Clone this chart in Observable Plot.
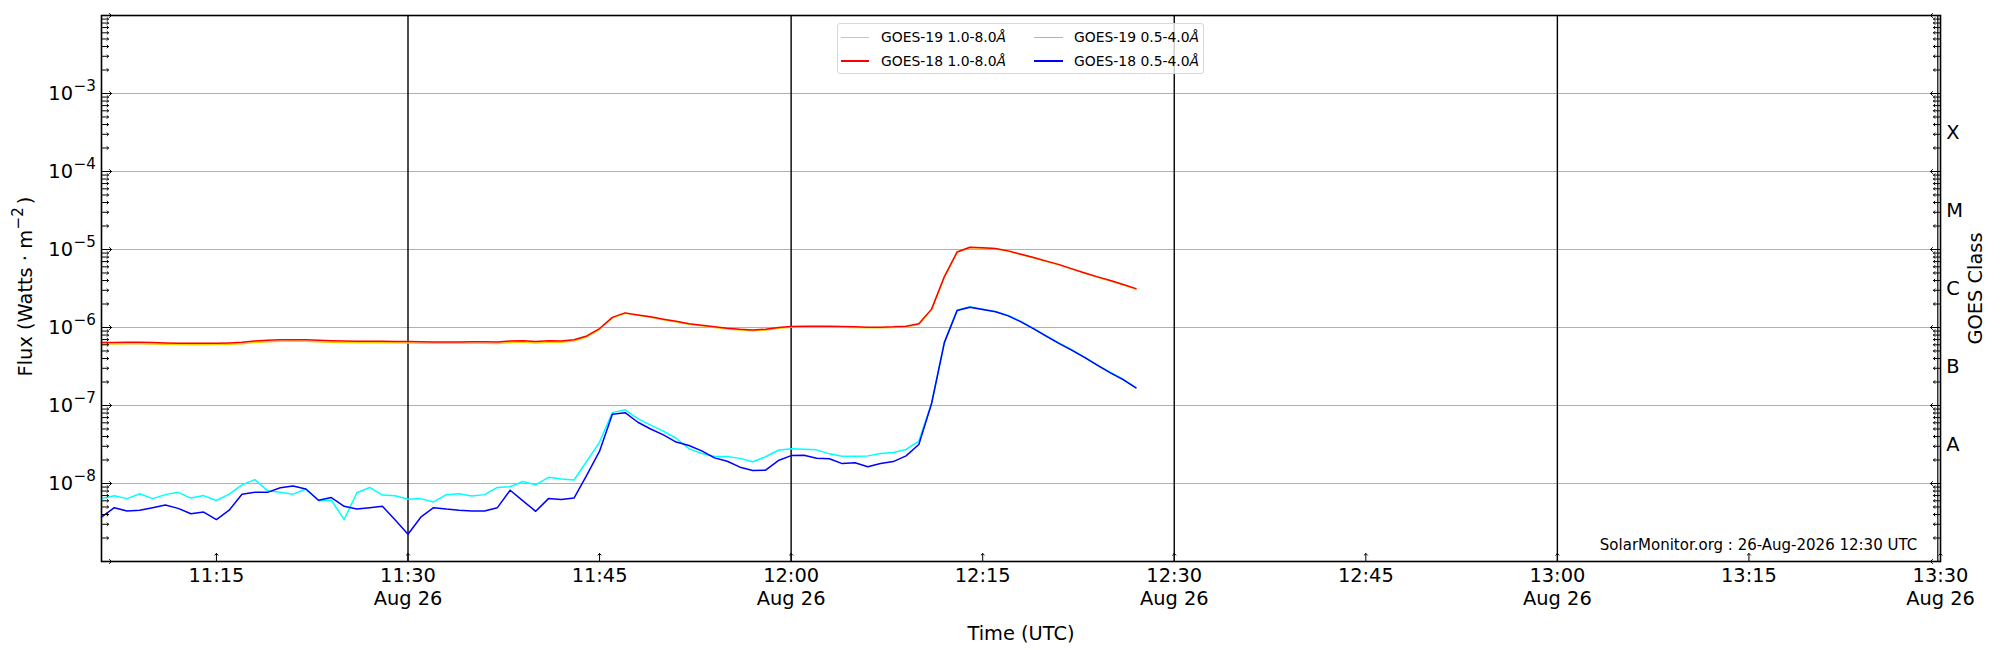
<!DOCTYPE html>
<html><head><meta charset="utf-8">
<script src="https://cdn.jsdelivr.net/npm/d3@7"></script>
<script src="https://cdn.jsdelivr.net/npm/@observablehq/plot@0.6"></script>
<style>
html,body{margin:0;padding:0;background:#fff;}
#wrap{position:relative;width:2000px;height:650px;font-family:"DejaVu Sans";}
#wrap svg{display:block;}
.legend-box{position:absolute;box-sizing:border-box;left:837px;top:22.7px;width:367px;height:51.3px;border:1px solid #d8d8d8;border-radius:3px;background:rgba(255,255,255,0.8);}
.lg-line{position:absolute;height:1.4px;}
.lg-text{position:absolute;font-size:13.9px;line-height:20px;height:20px;white-space:nowrap;color:#000;font-family:"DejaVu Sans";}
</style></head><body><div id="wrap"></div><script>
// ---- data (1-minute cadence starting 2026-08-26 11:06 UTC) ----
const startUTC = Date.UTC(2026, 7, 26, 11, 6);
const times = d3.range(82).map(i => new Date(startUTC + i * 60000));

const g19Long = [6.16e-7,6.16e-7,6.19e-7,6.19e-7,6.16e-7,6.1e-7,6.05e-7,6.03e-7,6.03e-7,6.05e-7,
  6.1e-7,6.19e-7,6.43e-7,6.58e-7,6.67e-7,6.7e-7,6.67e-7,6.58e-7,6.48e-7,6.43e-7,
  6.38e-7,6.38e-7,6.38e-7,6.36e-7,6.34e-7,6.29e-7,6.26e-7,6.26e-7,6.26e-7,6.29e-7,
  6.29e-7,6.24e-7,6.43e-7,6.51e-7,6.34e-7,6.48e-7,6.45e-7,6.7e-7,7.6e-7,9.5e-7,
  1.33e-6,1.52e-6,1.43e-6,1.35e-6,1.26e-6,1.18e-6,1.1e-6,1.05e-6,1.0e-6,0.96e-6,
  0.93e-6,0.91e-6,0.93e-6,0.98e-6,1.01e-6,1.02e-6,1.02e-6,1.02e-6,1.01e-6,1.0e-6,
  0.99e-6,0.99e-6,1.0e-6,1.02e-6,1.1e-6,1.7e-6,4.45e-6,9.2e-6,1.06e-5,1.04e-5,
  1.02e-5,9.5e-6,8.6e-6,7.8e-6,7.0e-6,6.3e-6,5.6e-6,4.95e-6,4.42e-6,3.96e-6,
  3.53e-6,3.12e-6];

const g18Long = [6.42e-7,6.42e-7,6.45e-7,6.45e-7,6.42e-7,6.35e-7,6.3e-7,6.28e-7,6.28e-7,6.3e-7,
  6.35e-7,6.45e-7,6.7e-7,6.85e-7,6.95e-7,6.98e-7,6.95e-7,6.85e-7,6.75e-7,6.7e-7,
  6.65e-7,6.65e-7,6.65e-7,6.62e-7,6.6e-7,6.55e-7,6.52e-7,6.52e-7,6.52e-7,6.55e-7,
  6.55e-7,6.5e-7,6.7e-7,6.78e-7,6.6e-7,6.75e-7,6.72e-7,6.95e-7,7.8e-7,9.7e-7,
  1.35e-6,1.54e-6,1.45e-6,1.37e-6,1.28e-6,1.2e-6,1.12e-6,1.07e-6,1.02e-6,0.98e-6,
  0.95e-6,0.93e-6,0.95e-6,1.0e-6,1.03e-6,1.04e-6,1.04e-6,1.04e-6,1.03e-6,1.02e-6,
  1.01e-6,1.01e-6,1.02e-6,1.04e-6,1.12e-6,1.72e-6,4.5e-6,9.3e-6,1.07e-5,1.05e-5,
  1.03e-5,9.6e-6,8.7e-6,7.9e-6,7.1e-6,6.4e-6,5.65e-6,5.0e-6,4.46e-6,4.0e-6,
  3.56e-6,3.15e-6];

const g19Short = [6.4e-9,6.95e-9,6.4e-9,7.4e-9,6.4e-9,7.2e-9,7.7e-9,6.5e-9,7.0e-9,6.05e-9,
  7.3e-9,9.6e-9,1.12e-8,8.1e-9,7.7e-9,7.3e-9,8.5e-9,6.0e-9,6.1e-9,3.45e-9,
  7.6e-9,8.9e-9,7.1e-9,6.95e-9,6.3e-9,6.4e-9,5.8e-9,7.2e-9,7.4e-9,6.9e-9,
  7.2e-9,8.9e-9,9.1e-9,1.06e-8,9.6e-9,1.2e-8,1.14e-8,1.11e-8,1.93e-8,3.4e-8,
  8.1e-8,8.8e-8,6.8e-8,5.6e-8,4.7e-8,3.8e-8,2.8e-8,2.43e-8,2.22e-8,2.22e-8,
  2.1e-8,1.9e-8,2.2e-8,2.67e-8,2.78e-8,2.75e-8,2.7e-8,2.4e-8,2.24e-8,2.24e-8,
  2.26e-8,2.42e-8,2.5e-8,2.73e-8,3.5e-8,1.08e-7,6.5e-7,1.67e-6,1.84e-6,1.72e-6,
  1.61e-6,1.43e-6,1.2e-6,9.7e-7,7.8e-7,6.3e-7,5.15e-7,4.15e-7,3.3e-7,2.65e-7,
  2.17e-7,1.7e-7];

const g18Short = [3.7e-9,4.9e-9,4.45e-9,4.55e-9,4.9e-9,5.3e-9,4.8e-9,4.1e-9,4.3e-9,3.45e-9,
  4.55e-9,7.3e-9,7.7e-9,7.7e-9,8.8e-9,9.3e-9,8.5e-9,6.1e-9,6.6e-9,5.1e-9,
  4.7e-9,4.9e-9,5.1e-9,3.4e-9,2.24e-9,3.7e-9,4.9e-9,4.7e-9,4.55e-9,4.45e-9,
  4.45e-9,4.9e-9,8.2e-9,6.0e-9,4.4e-9,6.4e-9,6.25e-9,6.5e-9,1.28e-8,2.6e-8,
  7.7e-8,8.1e-8,6.1e-8,5.0e-8,4.2e-8,3.4e-8,3.07e-8,2.62e-8,2.13e-8,1.93e-8,
  1.62e-8,1.47e-8,1.48e-8,1.97e-8,2.28e-8,2.3e-8,2.11e-8,2.08e-8,1.8e-8,1.85e-8,
  1.64e-8,1.8e-8,1.91e-8,2.26e-8,3.16e-8,1.06e-7,6.4e-7,1.65e-6,1.82e-6,1.7e-6,
  1.59e-6,1.41e-6,1.18e-6,9.6e-7,7.7e-7,6.2e-7,5.1e-7,4.1e-7,3.26e-7,2.62e-7,
  2.15e-7,1.68e-7];

const seriesNames = ["GOES-19 1.0-8.0", "GOES-18 1.0-8.0", "GOES-19 0.5-4.0", "GOES-18 0.5-4.0"];
const seriesColors = ["#ffcc00", "#ff0000", "#00ffff", "#0000ff"];
const seriesValues = [g19Long, g18Long, g19Short, g18Short];

const xTickLabels = ["11:15", "11:30\nAug 26", "11:45", "12:00\nAug 26", "12:15",
  "12:30\nAug 26", "12:45", "13:00\nAug 26", "13:15", "13:30\nAug 26"];
const halfHourLabels = ["11:30", "12:00", "12:30", "13:00"];
const yDecades = [1e-8, 1e-7, 1e-6, 1e-5, 1e-4, 1e-3];
const yTickLabels = ["10^\u22128", "10^\u22127", "10^\u22126", "10^\u22125", "10^\u22124", "10^\u22123"];
const classPositions = [10 ** -7.5, 10 ** -6.5, 10 ** -5.5, 10 ** -4.5, 10 ** -3.5];
const classLabels = ["A", "B", "C", "M", "X"];
const yLabel = "Flux (Watts \u00b7 m^\u22122^)";
const rightLabel = "GOES Class";
const xLabel = "Time (UTC)";
const credit = "SolarMonitor.org : 26-Aug-2026 12:30 UTC";

// ---- helpers ----
const FS = 19.4;
const hm = s => { const [h, m] = s.split("\n")[0].split(":").map(Number); return new Date(Date.UTC(2026, 7, 26, h, m)); };
const xTickTimes = xTickLabels.map(hm);
const halfHourTimes = halfHourLabels.map(hm);
const xStart = new Date(startUTC);
const xEnd = hm("13:30");
const minorTicks = [];
for (let e = -9; e <= -3; e++) for (let k = 2; k <= 9; k++) minorTicks.push(k * 10 ** e);
const yMajor = [1e-9, ...yDecades, 1e-2];
const classRows = classLabels.map((c, i) => ({c, v: classPositions[i]}));

const chart = Plot.plot({
  width: 2000, height: 650,
  marginLeft: 101, marginRight: 60, marginTop: 15, marginBottom: 89,
  style: {fontFamily: "DejaVu Sans", fontSize: FS + "px", background: "white", color: "black", overflow: "visible"},
  x: {type: "utc", domain: [xStart, xEnd]},
  y: {type: "log", domain: [1e-9, 1e-2]},
  marks: [
    Plot.ruleY(yDecades, {stroke: "#b0b0b0", strokeWidth: 1.1}),
    Plot.ruleX(halfHourTimes, {stroke: "black", strokeWidth: 1.4}),
    ...seriesValues.map((vals, k) => Plot.line(vals, {x: times, y: vals, stroke: seriesColors[k], strokeWidth: 1.5})),
    Plot.vector(minorTicks, {y: d => d, frameAnchor: "left", rotate: 90, length: 7, anchor: "start", stroke: "black", strokeWidth: 1}),
    Plot.vector(yMajor, {y: d => d, frameAnchor: "left", rotate: 90, length: 10, anchor: "start", stroke: "black", strokeWidth: 1}),
    Plot.vector(minorTicks, {y: d => d, frameAnchor: "right", rotate: -90, length: 7, anchor: "start", stroke: "black", strokeWidth: 1}),
    Plot.vector(yMajor, {y: d => d, frameAnchor: "right", rotate: -90, length: 10, anchor: "start", stroke: "black", strokeWidth: 1}),
    Plot.vector(xTickTimes, {x: d => d, frameAnchor: "bottom", rotate: 0, length: 8, anchor: "start", stroke: "black", strokeWidth: 1}),
    Plot.axisY(yDecades, {anchor: "left", tickSize: 0, tickPadding: 5.7, label: null, fontSize: FS,
      tickFormat: d => yTickLabels[yDecades.indexOf(d)]}),
    Plot.text(classRows, {y: "v", text: "c", frameAnchor: "right", textAnchor: "start", dx: 5.7, fontSize: FS}),
    Plot.axisX(xTickTimes, {anchor: "bottom", tickSize: 0, tickPadding: 4.4, lineHeight: 1.165, label: null, fontSize: FS,
      tickFormat: d => xTickLabels[xTickTimes.findIndex(t => +t === +d)]}),
    Plot.frame({stroke: "black", strokeWidth: 1.6}),
    Plot.ruleX([xEnd], {stroke: "black", strokeWidth: 1.2, dx: -2.7}),
    Plot.text([yLabel], {frameAnchor: "left", textAnchor: "middle", rotate: -90, dx: -76, dy: -2, fontSize: FS}),
    Plot.text([rightLabel], {frameAnchor: "right", textAnchor: "middle", rotate: -90, dx: 35, fontSize: FS}),
    Plot.text([xLabel], {frameAnchor: "bottom", textAnchor: "middle", lineAnchor: "bottom", dy: 78.7, fontSize: FS}),
    Plot.text([credit], {frameAnchor: "bottom-right", textAnchor: "end", lineAnchor: "bottom", dx: -23.3, dy: -12, fontSize: 15})
  ]
});

const wrap = document.getElementById("wrap");
wrap.appendChild(chart);

// superscripts (mathtext-like) for texts marked with ^
const SVGNS = "http://www.w3.org/2000/svg";
chart.querySelectorAll("text").forEach(el => {
  if (el.querySelector("tspan")) return;
  const t = el.textContent;
  if (!t.includes("^")) return;
  const raise = 0.43 * FS;
  const parts = t.split("^");
  el.textContent = "";
  let shifted = false;
  parts.forEach((p, i) => {
    if (p === "") return;
    const ts = document.createElementNS(SVGNS, "tspan");
    if (i % 2 === 1) {
      ts.setAttribute("dy", -raise);
      ts.setAttribute("dx", 0.5);
      ts.setAttribute("font-size", (0.78 * FS) + "px");
      shifted = true;
    } else if (shifted) {
      ts.setAttribute("dy", raise);
      ts.setAttribute("dx", 3);
      shifted = false;
    }
    ts.textContent = p;
    el.appendChild(ts);
  });
});

// legend (matplotlib-style, 2 columns, inside the axes)
const box = document.createElement("div");
box.className = "legend-box";
wrap.appendChild(box);
const rowY = [37.3, 61];
const colLineX = [840.7, 1034];
const colTextX = [881, 1074];
seriesNames.forEach((name, k) => {
  const col = Math.floor(k / 2), row = k % 2;
  const ln = document.createElement("div");
  ln.className = "lg-line";
  ln.style.left = colLineX[col] + "px";
  ln.style.width = "28.6px";
  ln.style.top = (rowY[row] - 0.7) + "px";
  ln.style.background = seriesColors[k];
  wrap.appendChild(ln);
  const tx = document.createElement("div");
  tx.className = "lg-text";
  tx.style.left = colTextX[col] + "px";
  tx.style.top = (rowY[row] - 10) + "px";
  tx.innerHTML = name + "<i>\u00c5</i>";
  wrap.appendChild(tx);
});
</script></body></html>
